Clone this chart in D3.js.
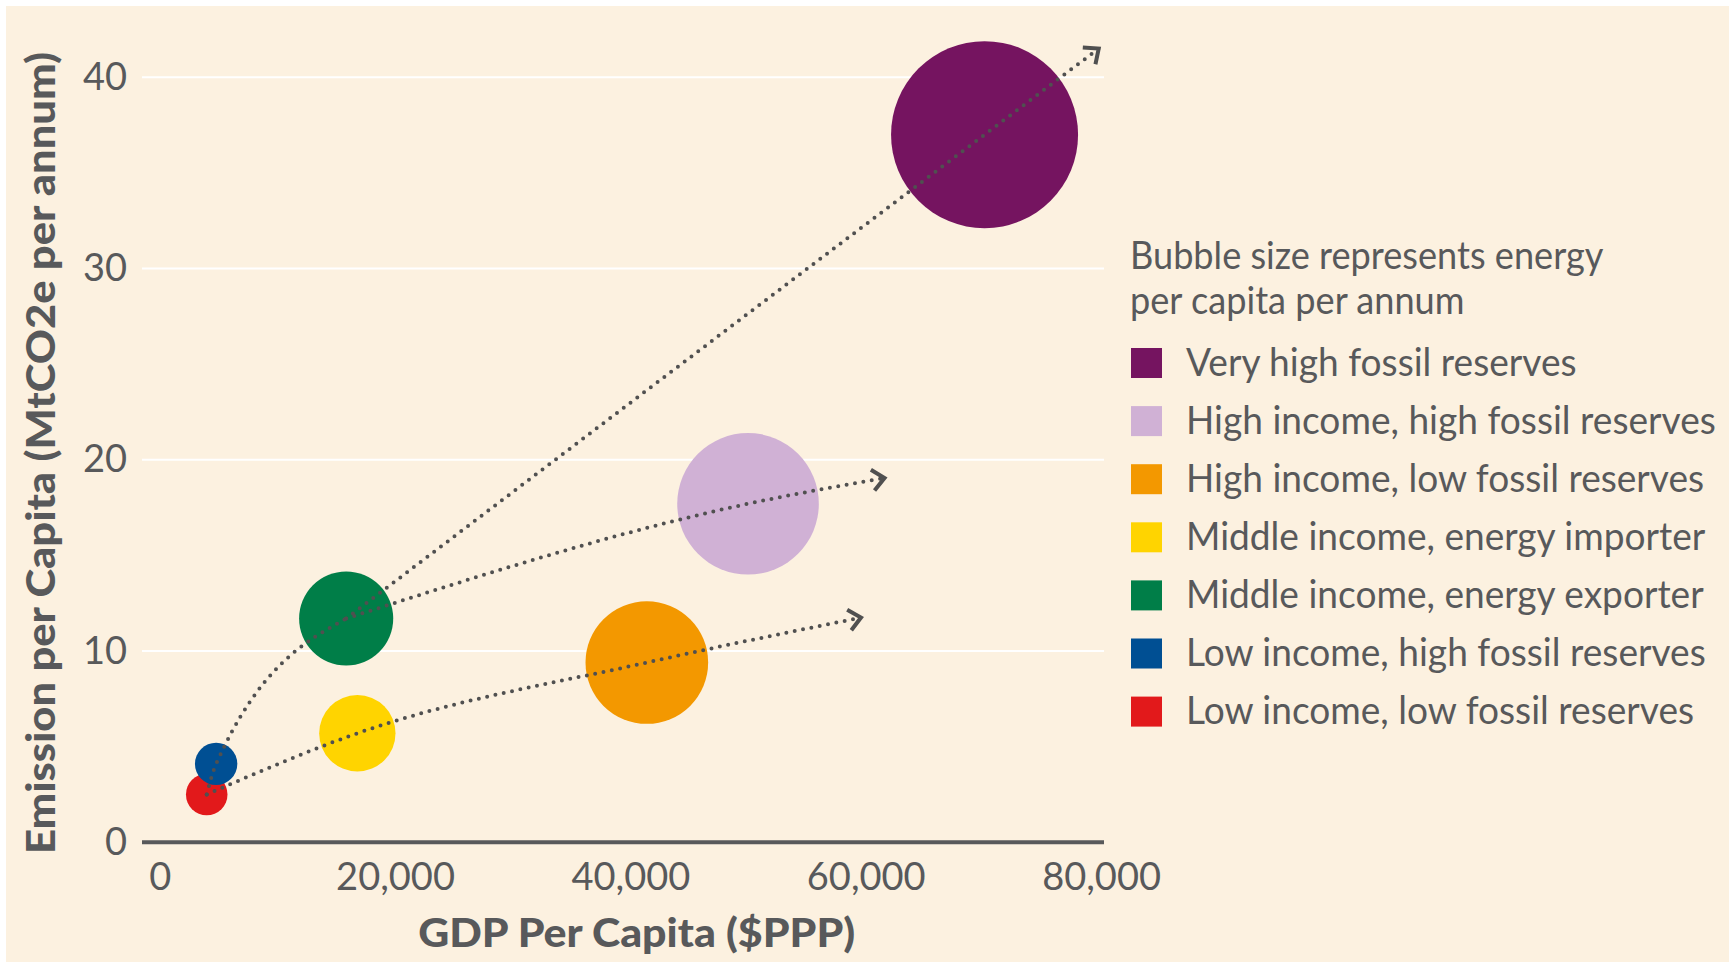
<!DOCTYPE html>
<html>
<head>
<meta charset="utf-8">
<script src="https://cdn.jsdelivr.net/npm/d3@7"></script>
<style>
  html, body { margin: 0; padding: 0; background: #ffffff; }
  svg { display: block; }
  text { font-family: Lato, "Noto Sans", sans-serif; }
</style>
</head>
<body>
<svg id="chart" width="1735" height="964"></svg>
<script>
// Country groups: GDP per capita, emissions per capita and energy use per capita
const categories = [
  "Very high fossil reserves",
  "High income, high fossil reserves",
  "High income, low fossil reserves",
  "Middle income, energy importer",
  "Middle income, energy exporter",
  "Low income, high fossil reserves",
  "Low income, low fossil reserves"
];
const gdpPerCapita      = [70100, 50000, 41400, 16800, 15850, 4800, 4000];
const emissionPerCapita = [37.0, 17.7, 9.4, 5.7, 11.7, 4.1, 2.5];
const energyPerCapita   = [300, 172, 129, 50, 76, 15.4, 14.8];
const groupColors = ["#751460", "#D0B1D5", "#F39800", "#FFD400", "#007E48", "#004F93", "#E2191B"];

const xTicks = [0, 20000, 40000, 60000, 80000];
const yTicks = [0, 10, 20, 30, 40];

// Development trajectories: groups each segment runs through, and where its arrow points
const trendRoutes = [
  ["Low income, low fossil reserves", "Low income, high fossil reserves", "Middle income, energy exporter"],
  ["Middle income, energy exporter", "Very high fossil reserves"],
  ["Middle income, energy exporter", "High income, high fossil reserves"],
  ["Low income, low fossil reserves", "Middle income, energy importer", "High income, low fossil reserves"]
];
const trendEnds = [null, [79800, 41.5], [61600, 19.05], [59600, 11.75]];

const legendTitle = ["Bubble size represents energy", "per capita per annum"];
const xTitle = "GDP Per Capita ($PPP)";
const yTitle = "Emission per Capita (MtCO2e per annum)";

const ink = "#58595B";
const svg = d3.select("#chart");

svg.append("rect")
  .attr("x", 6).attr("y", 6).attr("width", 1723).attr("height", 956)
  .attr("fill", "#FCF1E0");

const x = d3.scaleLinear().domain([-1500, 80250]).range([142, 1104]);
const y = d3.scaleLinear().domain([0, 40]).range([842.3, 77.3]);
const r = d3.scaleSqrt().domain([0, 300]).range([0, 93.5]);

const groups = categories.map((name, i) => ({
  name, gdp: gdpPerCapita[i], emission: emissionPerCapita[i],
  energy: energyPerCapita[i], color: groupColors[i]
}));
const byName = new Map(groups.map(g => [g.name, g]));

// horizontal gridlines
svg.append("g")
  .selectAll("line")
  .data(yTicks.filter(d => d > 0))
  .join("line")
  .attr("x1", x.range()[0]).attr("x2", x.range()[1])
  .attr("y1", d => y(d)).attr("y2", d => y(d))
  .attr("stroke", "#ffffff").attr("stroke-width", 2);

// baseline
svg.append("line")
  .attr("x1", x.range()[0]).attr("x2", x.range()[1])
  .attr("y1", y(0)).attr("y2", y(0))
  .attr("stroke", ink).attr("stroke-width", 4);

// axes
const xAxis = svg.append("g")
  .attr("transform", `translate(0,${y(0)})`)
  .call(d3.axisBottom(x).tickValues(xTicks).tickFormat(d3.format(",")).tickSize(0).tickPadding(21));
xAxis.select(".domain").remove();
xAxis.selectAll("text").attr("font-size", 38).attr("font-family", "Lato").attr("fill", ink);

const yAxis = svg.append("g")
  .attr("transform", `translate(${x.range()[0]},0)`)
  .call(d3.axisLeft(y).tickValues(yTicks).tickSize(0).tickPadding(15));
yAxis.select(".domain").remove();
yAxis.selectAll("text").attr("font-size", 38).attr("font-family", "Lato").attr("fill", ink);

// axis titles
svg.append("text")
  .attr("x", 636.7).attr("y", 947)
  .attr("text-anchor", "middle")
  .attr("font-size", 40).attr("font-weight", 900).attr("fill", ink)
  .text(xTitle)
  .attr("textLength", 437).attr("lengthAdjust", "spacingAndGlyphs");

svg.append("text")
  .attr("transform", "translate(55,453) rotate(-90)")
  .attr("text-anchor", "middle")
  .attr("font-size", 40).attr("font-weight", 900).attr("fill", ink)
  .text(yTitle)
  .attr("textLength", 802).attr("lengthAdjust", "spacingAndGlyphs");

// bubbles (smallest drawn last so they sit on top)
svg.append("g")
  .selectAll("circle")
  .data(groups.slice().reverse())
  .join("circle")
  .attr("cx", d => x(d.gdp))
  .attr("cy", d => y(d.emission))
  .attr("r", d => r(d.energy))
  .attr("fill", d => d.color);

// arrowhead
svg.append("defs").append("marker")
  .attr("id", "chevron")
  .attr("markerUnits", "userSpaceOnUse")
  .attr("viewBox", "-16 -14 20 28")
  .attr("markerWidth", 20).attr("markerHeight", 28)
  .attr("refX", 0).attr("refY", 0)
  .attr("orient", "auto")
  .append("path")
  .attr("d", "M-12,-10.5 L0,0 L-12,10.5")
  .attr("fill", "none").attr("stroke", "#505050")
  .attr("stroke-width", 4).attr("stroke-linejoin", "miter");

const trendLine = d3.line()
  .x(d => x(d[0])).y(d => y(d[1]))
  .curve(d3.curveMonotoneX);

svg.append("g")
  .selectAll("path")
  .data(trendRoutes.map((route, i) => {
    const pts = route.map(n => [byName.get(n).gdp, byName.get(n).emission]);
    return { pts: trendEnds[i] ? pts.concat([trendEnds[i]]) : pts, arrow: !!trendEnds[i] };
  }))
  .join("path")
  .attr("d", d => trendLine(d.pts))
  .attr("fill", "none")
  .attr("stroke", "#505050")
  .attr("stroke-width", 4)
  .attr("stroke-linecap", "round")
  .attr("stroke-dasharray", "0 8.5")
  .attr("marker-end", d => d.arrow ? "url(#chevron)" : null);

// legend
const legend = svg.append("g").attr("transform", "translate(1130,0)");
const titleText = legend.selectAll("text.title")
  .data(legendTitle)
  .join("text")
  .attr("class", "title")
  .attr("font-size", 38).attr("fill", ink)
  .text(d => d);

const rows = legend.selectAll("g.row")
  .data(groups)
  .join("g")
  .attr("class", "row")
  .attr("transform", (d, i) => `translate(0,${363 + i * 58.1})`);
rows.append("rect")
  .attr("x", 1).attr("y", -15).attr("width", 31).attr("height", 30)
  .attr("fill", d => d.color);
const labels = rows.append("text")
  .attr("font-size", 39).attr("fill", ink)
  .text(d => d.name);

// legend type is set a little narrower than the font's natural width
const refWidth = labels.filter(d => d.name === "High income, high fossil reserves").node().getComputedTextLength();
const squeeze = Math.min(1, 530 / refWidth);
labels.attr("transform", `translate(56,12.5) scale(${squeeze},1)`);
titleText.attr("transform", (d, i) => `translate(0,${269 + i * 45}) scale(${squeeze},1)`);
</script>
</body>
</html>
